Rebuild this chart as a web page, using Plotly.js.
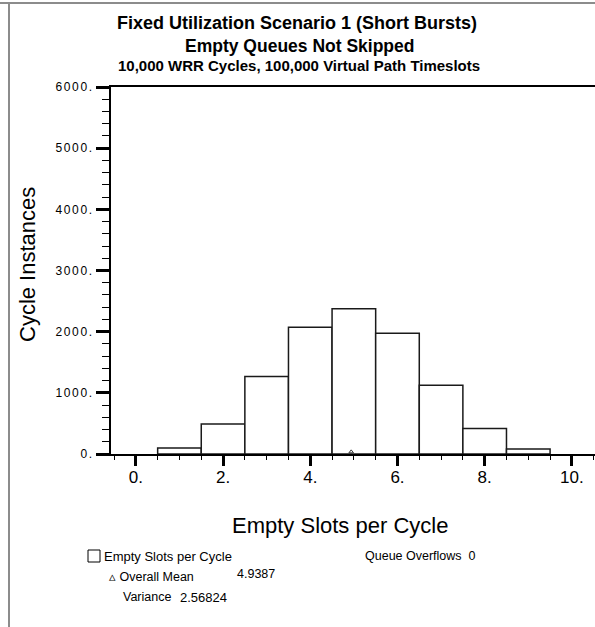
<!DOCTYPE html>
<html>
<head>
<meta charset="utf-8">
<script src="https://cdn.plot.ly/plotly-3.0.1.min.js"></script>
<style>
  html, body { margin: 0; padding: 0; background: #fff; }
  #chart { width: 595px; height: 627px; }
  /* the value labels on the count axis are set wide */
  #chart .ytick text { letter-spacing: 1.6px; }
</style>
</head>
<body>
<div id="chart"></div>
<script>
// Histogram of empty slots per WRR cycle
const emptySlots = [1, 2, 3, 4, 5, 6, 7, 8, 9];
const cycleCounts = [98, 489, 1266, 2072, 2375, 1974, 1126, 418, 82];

const overallMean = 4.9387;
const variance = 2.56824;
const queueOverflows = 0;

const xTickVals = [0, 2, 4, 6, 8, 10];
const xTickText = ['0.', '2.', '4.', '6.', '8.', '10.'];
const yTickVals = [0, 1000, 2000, 3000, 4000, 5000, 6000];
const yTickText = ['0.', '1000.', '2000.', '3000.', '4000.', '5000.', '6000.'];

const FONT = 'Liberation Sans, Arial, Helvetica, sans-serif';

const bars = {
  type: 'bar',
  x: emptySlots,
  y: cycleCounts,
  width: 1,
  marker: { color: '#ffffff', line: { color: '#1a1a1a', width: 1.5 } },
  hoverinfo: 'x+y'
};

const meanMark = {
  type: 'scatter',
  mode: 'markers',
  x: [overallMean],
  y: [35],
  marker: { symbol: 'triangle-up-open', size: 4, color: '#333', line: { width: 1 } },
  hoverinfo: 'x'
};

// pixel helpers for the plot area (111..595 x 87..454)
const L = 111, R = 595, T = 87, B = 454;
const px = v => (v - L) / (R - L);
const py = v => (B - v) / (B - T);

function note(text, x, y, size, opts) {
  return Object.assign({
    text: text, xref: 'paper', yref: 'paper', x: px(x), y: py(y),
    xanchor: 'left', yanchor: 'middle', showarrow: false,
    font: { family: FONT, size: size, color: '#000' }
  }, opts || {});
}

const layout = {
  width: 595,
  height: 627,
  margin: { l: L, r: 595 - R, t: T, b: 627 - B, pad: 0 },
  paper_bgcolor: '#ffffff',
  plot_bgcolor: '#ffffff',
  showlegend: false,
  bargap: 0,
  xaxis: {
    range: [-0.57, 10.53],
    tickmode: 'array',
    tickvals: xTickVals,
    ticktext: xTickText,
    ticks: 'outside',
    ticklen: 10,
    tickwidth: 3,
    tickcolor: '#000',
    ticklabelstandoff: -3,
    minor: { dtick: 0.5, tick0: 0, ticks: 'outside', ticklen: 4, tickwidth: 1, tickcolor: '#000' },
    showgrid: false,
    zeroline: false,
    showline: true,
    linecolor: '#000',
    linewidth: 2,
    mirror: true,
    tickfont: { family: FONT, size: 17, color: '#000' },
    fixedrange: true
  },
  yaxis: {
    range: [0, 6000],
    tickmode: 'array',
    tickvals: yTickVals,
    ticktext: yTickText,
    ticks: 'outside',
    ticklen: 13,
    tickwidth: 3,
    tickcolor: '#000',
    minor: { dtick: 200, tick0: 0, ticks: 'outside', ticklen: 7, tickwidth: 1, tickcolor: '#000' },
    showgrid: false,
    zeroline: false,
    showline: true,
    linecolor: '#000',
    linewidth: 2,
    tickfont: { family: FONT, size: 12, color: '#000' },
    fixedrange: true
  },
  shapes: [
    { type: 'line', xref: 'paper', yref: 'paper', x0: px(0), x1: px(595), y0: py(3), y1: py(3),
      line: { color: '#8c8c8c', width: 2 } },
    { type: 'line', xref: 'paper', yref: 'paper', x0: px(9), x1: px(9), y0: py(3), y1: py(627),
      line: { color: '#8c8c8c', width: 2 } },
    { type: 'rect', xref: 'paper', yref: 'paper', x0: px(88), x1: px(100), y0: py(550), y1: py(562),
      line: { color: '#000', width: 1 }, fillcolor: '#fff' }
  ],
  annotations: [
    note('<b>Fixed Utilization Scenario 1 (Short Bursts)</b>', 297, 23, 18, { xanchor: 'center' }),
    note('<b>Empty Queues Not Skipped</b>', 299, 46, 17.5, { xanchor: 'center' }),
    note('<b>10,000 WRR Cycles, 100,000 Virtual Path Timeslots</b>', 299, 66, 15, { xanchor: 'center' }),
    note('Cycle Instances', 27, 265, 22, { xanchor: 'center', textangle: -90 }),
    note('Empty Slots per Cycle', 340, 525, 22, { xanchor: 'center' }),
    note('Empty Slots per Cycle', 102, 556, 13),
    note('Queue Overflows  ' + queueOverflows, 363, 556, 12.5),
    note('\u25B5 Overall Mean', 107, 577, 12.5),
    note(String(overallMean), 235, 574, 12.5),
    note('Variance', 121, 597, 12.5),
    note(String(variance), 178, 597, 13)
  ]
};

Plotly.newPlot('chart', [bars, meanMark], layout, { displayModeBar: false, staticPlot: true });
</script>
</body>
</html>
